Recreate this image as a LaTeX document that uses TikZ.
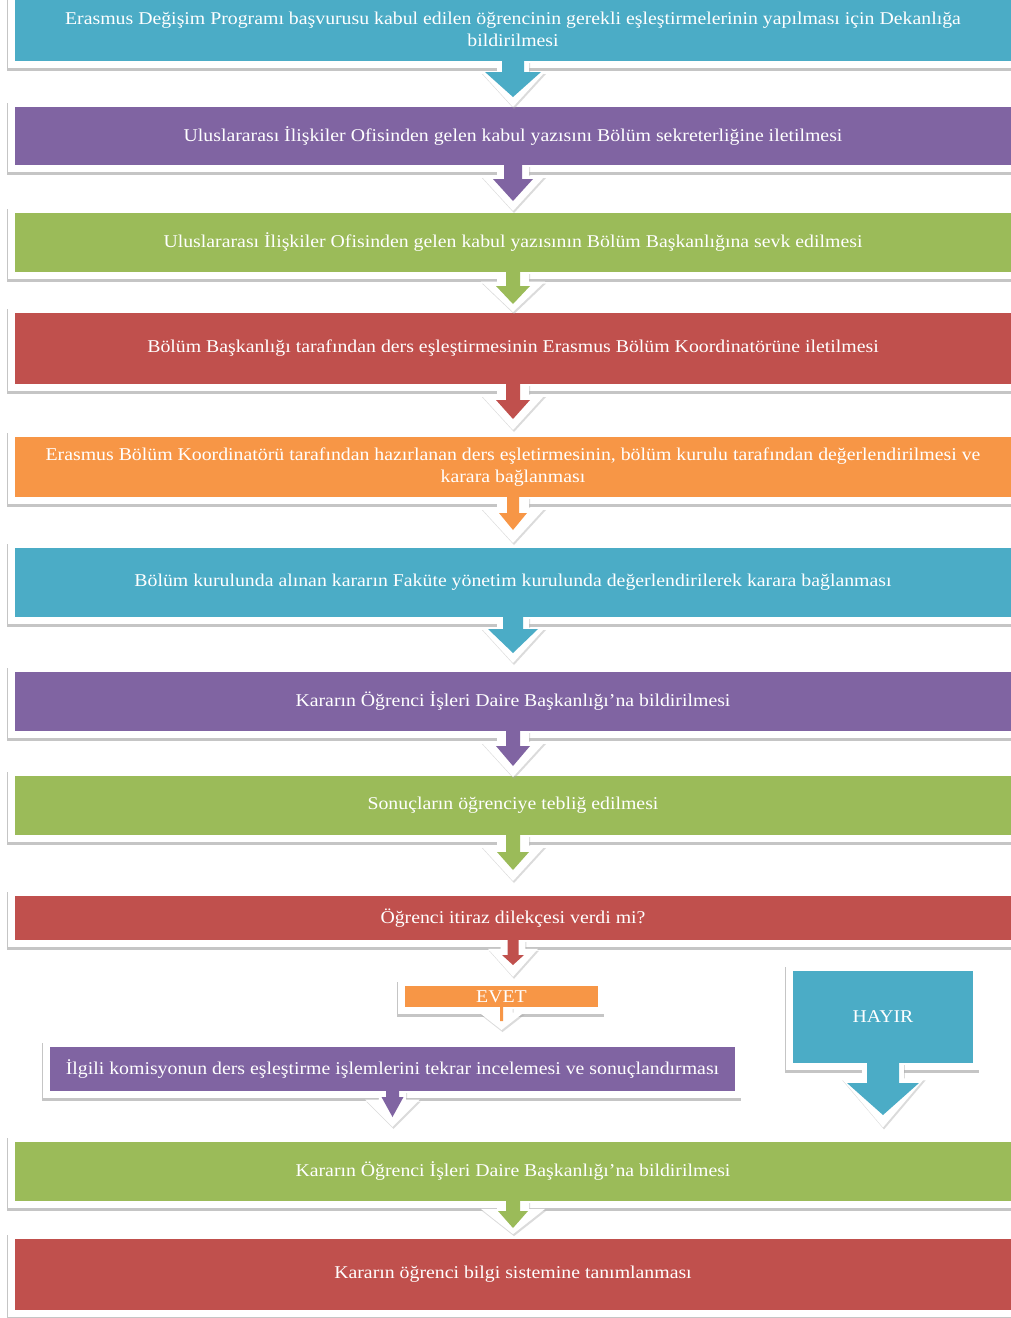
\documentclass[tikz,border=0pt]{standalone}
\usepackage{fontspec}
\setmainfont{Liberation Serif}[FakeStretch=1.1]
\usetikzlibrary{backgrounds,shadows}

\definecolor{mavi}{HTML}{4BACC6}
\definecolor{mor}{HTML}{8064A2}
\definecolor{yesil}{HTML}{9BBB59}
\definecolor{kirmizi}{HTML}{C0504D}
\definecolor{turuncu}{HTML}{F79646}

% blok ok: [dis sekil] {kaynak} {renk} {govde yari genislik} {govde boyu} {bas yari genislik} {uc}
\newcommand{\blokok}[7][]{%
  \begin{scope}[shift={(#2.south)}]
    \fill[okzemin, #1] (-16,0) -- (-16,11) -- (-32,11) -- (0,46) -- (32,11) -- (16,11) -- (16,0) -- cycle;
    \fill[#3] (-#4,-1) -- (-#4,#5) -- (-#6,#5) -- (0,#7) -- (#6,#5) -- (#4,#5) -- (#4,-1) -- cycle;
  \end{scope}}

\begin{document}
\begin{tikzpicture}[x=1pt, y=-1pt,
        kutu/.style={fill=#1, text=white, align=center, inner sep=0pt, outer sep=0pt,
            font=\fontsize{18}{22}\selectfont}, % renkli kutular
        genis/.style={minimum width=996, minimum height=#1}, % tam genislik
        cerceve/.style={fill=white, drop shadow={shadow xshift=-1.5pt, shadow yshift=-3pt, fill=black!45, opacity=.5}},
        okzemin/.style={fill=white, drop shadow={shadow xshift=1pt, shadow yshift=-2pt, fill=black!35, opacity=.4}},
    ]
    \useasboundingbox (0,0) rectangle (1010,1318);

    \node[kutu=mavi, genis=64] (k1) at (513,29) {Erasmus Değişim Programı başvurusu kabul edilen öğrencinin gerekli eşleştirmelerinin yapılması için Dekanlığa\\ bildirilmesi};
    \node[kutu=mor, genis=58] (k2) at (513,136) {Uluslararası İlişkiler Ofisinden gelen kabul yazısını Bölüm sekreterliğine iletilmesi};
    \node[kutu=yesil, genis=59] (k3) at (513,242.5) {Uluslararası İlişkiler Ofisinden gelen kabul yazısının Bölüm Başkanlığına sevk edilmesi};
    \node[kutu=kirmizi, genis=71] (k4) at (513,348.5) {Bölüm Başkanlığı tarafından ders eşleştirmesinin Erasmus Bölüm Koordinatörüne iletilmesi};
    \node[kutu=turuncu, genis=60] (k5) at (513,467) {Erasmus Bölüm Koordinatörü tarafından hazırlanan ders eşletirmesinin, bölüm kurulu tarafından değerlendirilmesi ve\\ karara bağlanması};
    \node[kutu=mavi, genis=69] (k6) at (513,582.5) {Bölüm kurulunda alınan kararın Faküte yönetim kurulunda değerlendirilerek karara bağlanması};
    \node[kutu=mor, genis=59] (k7) at (513,701.5) {Kararın Öğrenci İşleri Daire Başkanlığı'na bildirilmesi};
    \node[kutu=yesil, genis=59] (k8) at (513,805.5) {Sonuçların öğrenciye tebliğ edilmesi};
    \node[kutu=kirmizi, genis=44] (k9) at (513,918) {Öğrenci itiraz dilekçesi verdi mi?};
    \node[kutu=turuncu, minimum width=193, minimum height=21] (evet) at (501.5,996.5) {EVET};
    \node[kutu=mavi, minimum width=180, minimum height=92] (hayir) at (883,1017) {HAYIR};
    \node[kutu=mor, minimum width=685, minimum height=44] (k10) at (392.5,1069) {İlgili komisyonun ders eşleştirme işlemlerini tekrar incelemesi ve sonuçlandırması};
    \node[kutu=yesil, genis=59] (k11) at (513,1171.5) {Kararın Öğrenci İşleri Daire Başkanlığı'na bildirilmesi};
    \node[kutu=kirmizi, genis=71] (k12) at (513,1274.5) {Kararın öğrenci bilgi sistemine tanımlanması};

    % beyaz cerceveler
    \begin{scope}[on background layer]
        \fill[white] (0,0) rectangle (1010,1318);
        \foreach \k in {k1,k2,k3,k4,k5,k6,k7,k8,k9,evet,hayir,k10,k11,k12}
            \fill[cerceve] ([shift={(-7pt,7pt)}]\k.north west) rectangle ([shift={(7pt,-7pt)}]\k.south east);
    \end{scope}

    % oklar
    \blokok{k1}{mavi}{11}{11}{28}{36}
    \blokok{k2}{mor}{9}{14}{20}{36}
    \blokok[yscale=.87]{k3}{yesil}{7}{14}{17}{32}
    \blokok{k4}{kirmizi}{7}{16}{17}{35}
    \blokok{k5}{turuncu}{6}{16}{14}{33}
    \blokok{k6}{mavi}{10}{12}{25}{36}
    \blokok{k7}{mor}{7}{15}{17}{35}
    \blokok{k8}{yesil}{7}{17}{16}{35}
    \blokok[xscale=.78, yscale=.8]{k9}{kirmizi}{5.5}{15}{11}{25}
    \blokok[xscale=.7, yscale=.5]{evet}{turuncu}{1.5}{14}{1.5}{14}
    \blokok[xscale=.85, yscale=.78]{k10}{mor}{6.5}{6}{11}{26}
    \blokok[xscale=1.3, yscale=1.4]{hayir}{mavi}{16}{20}{36}{52}
    \blokok[yscale=.72]{k11}{yesil}{7}{10}{15}{27}
\end{tikzpicture}
\end{document}
